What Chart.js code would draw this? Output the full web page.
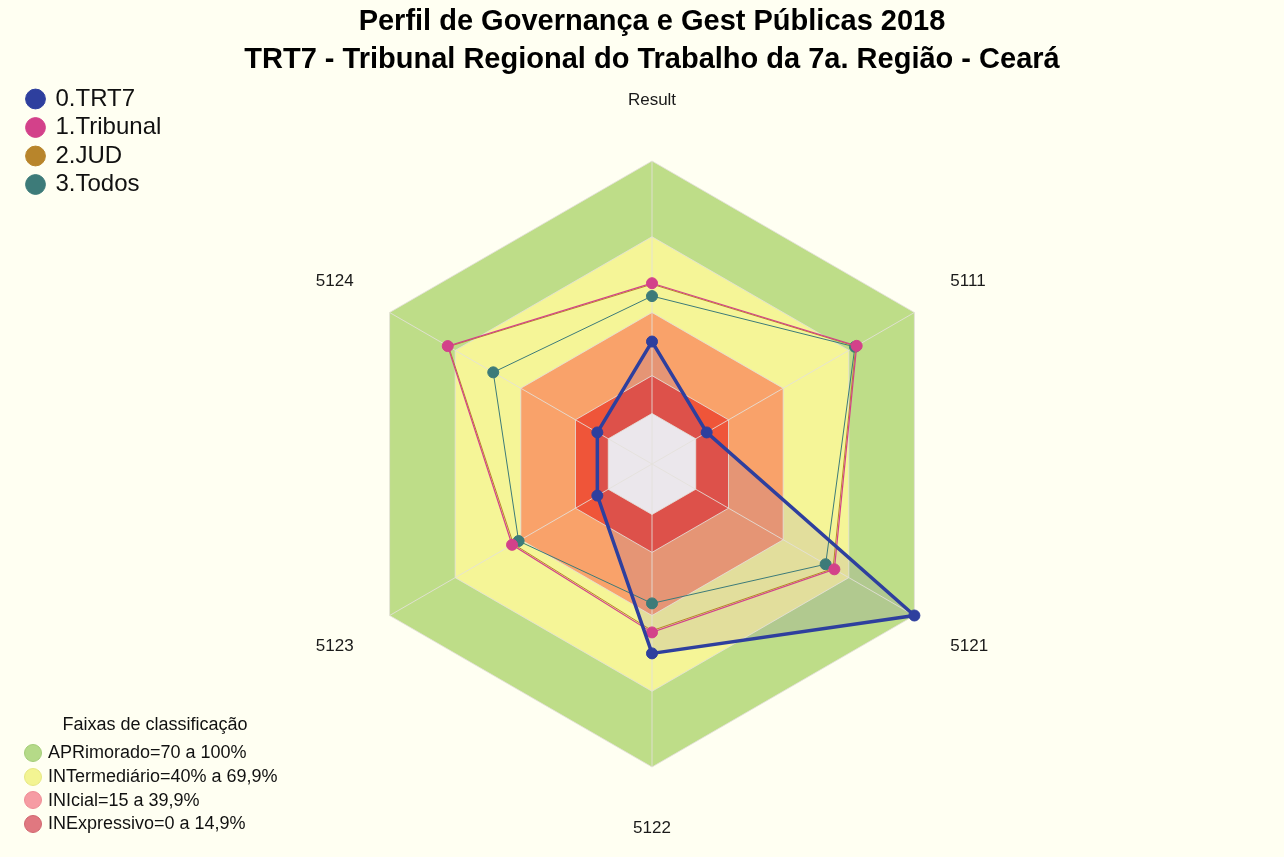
<!DOCTYPE html>
<html>
<head>
<meta charset="utf-8">
<title>Perfil de Governança</title>
<script src="https://cdn.jsdelivr.net/npm/chart.js@4.4.0/dist/chart.umd.min.js"></script>
<style>
  html, body { margin: 0; padding: 0; background: #FFFFF2; }
  #wrap { position: relative; width: 1284px; height: 857px; background: #FFFFF2; }
  #c { display: block; }
  #bandLegend { position: absolute; left: 22px; top: 711px; font-family: 'Liberation Sans', Arial, sans-serif; font-size: 18px; color: #111; }
  #bandLegend .t { width: 266px; text-align: center; line-height: 26px; height: 26px; margin-bottom: 4px; }
  #bandLegend .row { display: flex; align-items: center; height: 23.7px; white-space: nowrap; }
  #bandLegend .dot { width: 18px; height: 18px; border-radius: 50%; margin: 0 6px 0 2px; box-sizing: border-box; border: 1px solid; }
</style>
</head>
<body>
<div id="wrap">
  <canvas id="c" width="1284" height="857"></canvas>
  <div id="bandLegend"></div>
</div>
<script>
// eixos do radar
const categories = ['Result', '5111', '5121', '5122', '5123', '5124'];

// series
const seriesNames = ['0.TRT7', '1.Tribunal', '2.JUD', '3.Todos'];
const trt7 = [28.5, 5, 100, 55, 5, 5];
const tribunal = [51.6, 73.6, 63.4, 46.7, 44, 73.4];
const jud = [51.2, 73.2, 62.8, 46.0, 43.4, 73.0];
const todos = [46.5, 72.8, 59.4, 35.2, 41, 52.6];

// faixas de classificacao (de dentro para fora)
const bandLimits = [0, 15, 40, 70, 100];
const tickValues = [-20, 0, 15, 40, 70, 100];
const bandTitle = 'Faixas de classificação';
const bandLabels = ['APRimorado=70 a 100%', 'INTermediário=40% a 69,9%', 'INIcial=15 a 39,9%', 'INExpressivo=0 a 14,9%'];

const FONT = "'Liberation Sans', Arial, sans-serif";
const seriesColors = ['#2E3F9E', '#D3418A', '#B8852B', '#3D7B79'];
const bandFill = ['#FFFFF2', '#EF5539', '#F9A26A', '#F5F597', '#BEDD88'];
const bandDot = ['#B5DA88', '#F3F492', '#F69CA3', '#E07880'];
const bandDotBorder = ['#A3CC78', '#E6E783', '#EE8C95', '#D0666F'];

const datasets = [
    {
        label: seriesNames[0], data: trt7,
        borderColor: seriesColors[0], backgroundColor: 'rgba(90,60,200,0.12)',
        pointBackgroundColor: seriesColors[0], pointBorderColor: seriesColors[0],
        borderWidth: 3.5, pointBorderWidth: 1, pointRadius: 5.5, fill: 'start'
    },
    {
        label: seriesNames[1], data: tribunal,
        borderColor: seriesColors[1], pointBackgroundColor: seriesColors[1], pointBorderColor: seriesColors[1],
        borderWidth: 1.2, pointBorderWidth: 1, pointRadius: 5.5, fill: false
    },
    {
        label: seriesNames[2], data: jud,
        borderColor: seriesColors[2], pointBackgroundColor: seriesColors[2], pointBorderColor: seriesColors[2],
        borderWidth: 1, pointBorderWidth: 1, pointRadius: 0, fill: false
    },
    {
        label: seriesNames[3], data: todos,
        borderColor: seriesColors[3], pointBackgroundColor: seriesColors[3], pointBorderColor: seriesColors[3],
        borderWidth: 1, pointBorderWidth: 1, pointRadius: 5.5, fill: false
    }
];

// faixas como poligonos preenchidos ate o centro
bandLimits.forEach((lim, i) => {
    datasets.push({
        label: 'faixa ' + lim,
        data: categories.map(() => lim),
        borderWidth: 0, pointRadius: 0, pointHitRadius: 0,
        backgroundColor: bandFill[i], fill: 'start'
    });
});

const chart = new Chart(document.getElementById('c'), {
    type: 'radar',
    data: { labels: categories, datasets: datasets },
    options: {
        responsive: false,
        animation: false,
        layout: { padding: { left: 23, right: 3, top: 0, bottom: 11 } },
        elements: { line: { tension: 0 } },
        plugins: {
            filler: { drawTime: 'beforeDraw', propagate: false },
            tooltip: { enabled: false },
            title: {
                display: true,
                text: ['Perfil de Governança e Gest Públicas 2018', 'TRT7 - Tribunal Regional do Trabalho da 7a. Região - Ceará'],
                color: '#000',
                font: { family: FONT, size: 29, weight: 'bold', lineHeight: 38 / 29 },
                padding: { top: 3, bottom: 3 }
            },
            legend: {
                position: 'chartArea',
                align: 'start',
                // titulo vazio so para descer os itens
                title: { display: true, text: '', font: { size: 12, lineHeight: 1 }, padding: { top: 70.5, bottom: 0 } },
                labels: {
                    usePointStyle: true,
                    boxWidth: 16,
                    boxHeight: 14,
                    padding: 4.5,
                    color: '#111',
                    font: { family: FONT, size: 24 },
                    filter: (item) => item.datasetIndex < seriesNames.length
                }
            }
        },
        scales: {
            r: {
                min: -20,
                max: 100,
                ticks: { display: false },
                afterBuildTicks: (s) => { s.ticks = tickValues.map(v => ({ value: v })); },
                grid: { color: 'rgba(228,224,218,0.85)', lineWidth: 1 },
                angleLines: { color: 'rgba(228,224,218,0.85)', lineWidth: 1 },
                pointLabels: {
                    color: '#1a1a1a',
                    font: (ctx) => ({ family: FONT, size: 17, lineHeight: ctx.index % 3 === 0 ? 36 / 17 : 1.2 }),
                    padding: (ctx) => (ctx.index % 3 === 0 ? 43 : 41.5)
                }
            }
        }
    }
});

// legenda das faixas
const bl = document.getElementById('bandLegend');
let html = '<div class="t">' + bandTitle + '</div>';
bandLabels.forEach((txt, i) => {
    html += '<div class="row"><span class="dot" style="background:' + bandDot[i] + ';border-color:' + bandDotBorder[i] + '"></span>' + txt + '</div>';
});
bl.innerHTML = html;
</script>
</body>
</html>
